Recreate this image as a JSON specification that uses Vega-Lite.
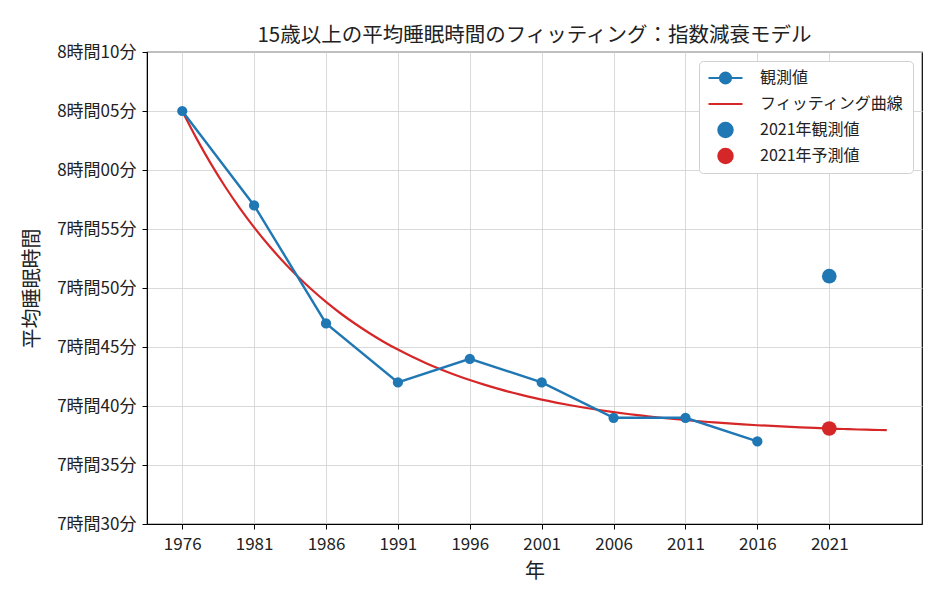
{
  "$schema": "https://vega.github.io/schema/vega-lite/v6.json",
  "autosize": {"type": "none"},
  "padding": {"left": 147, "top": 52, "right": 12, "bottom": 65},
  "width": 775,
  "height": 472,
  "background": "white",
  "title": {
    "text": "15歳以上の平均睡眠時間のフィッティング：指数減衰モデル",
    "font": "Noto Sans CJK JP",
    "fontSize": 20.5,
    "fontWeight": "normal",
    "color": "#222222",
    "offset": -3
  },
  "config": {
    "view": {"stroke": "#000000", "strokeWidth": 1.2},
    "axis": {
      "labelFont": "Noto Sans CJK JP",
      "labelFontSize": 17,
      "labelColor": "#222222",
      "titleFont": "Noto Sans CJK JP",
      "titleFontSize": 20,
      "titleFontWeight": "normal",
      "titleColor": "#222222",
      "tickColor": "#000000",
      "tickSize": 5,
      "domainColor": "#000000",
      "gridColor": "#d5d5d5",
      "gridWidth": 0.9
    },
    "legend": {
      "labelFont": "Noto Sans CJK JP",
      "labelFontSize": 16,
      "labelColor": "#222222"
    }
  },
  "datasets": {
    "obs": [
      {"year": 1976, "minutes": 485, "series": "観測値"},
      {"year": 1981, "minutes": 477, "series": "観測値"},
      {"year": 1986, "minutes": 467, "series": "観測値"},
      {"year": 1991, "minutes": 462, "series": "観測値"},
      {"year": 1996, "minutes": 464, "series": "観測値"},
      {"year": 2001, "minutes": 462, "series": "観測値"},
      {"year": 2006, "minutes": 459, "series": "観測値"},
      {"year": 2011, "minutes": 459, "series": "観測値"},
      {"year": 2016, "minutes": 457, "series": "観測値"}
    ],
    "fit": [
      {"year": 1976, "minutes": 485.0, "series": "フィッティング曲線"},
      {"year": 1977, "minutes": 482.66, "series": "フィッティング曲線"},
      {"year": 1978, "minutes": 480.52, "series": "フィッティング曲線"},
      {"year": 1979, "minutes": 478.56, "series": "フィッティング曲線"},
      {"year": 1980, "minutes": 476.77, "series": "フィッティング曲線"},
      {"year": 1981, "minutes": 475.14, "series": "フィッティング曲線"},
      {"year": 1982, "minutes": 473.64, "series": "フィッティング曲線"},
      {"year": 1983, "minutes": 472.27, "series": "フィッティング曲線"},
      {"year": 1984, "minutes": 471.02, "series": "フィッティング曲線"},
      {"year": 1985, "minutes": 469.87, "series": "フィッティング曲線"},
      {"year": 1986, "minutes": 468.82, "series": "フィッティング曲線"},
      {"year": 1987, "minutes": 467.86, "series": "フィッティング曲線"},
      {"year": 1988, "minutes": 466.99, "series": "フィッティング曲線"},
      {"year": 1989, "minutes": 466.19, "series": "フィッティング曲線"},
      {"year": 1990, "minutes": 465.45, "series": "フィッティング曲線"},
      {"year": 1991, "minutes": 464.78, "series": "フィッティング曲線"},
      {"year": 1992, "minutes": 464.17, "series": "フィッティング曲線"},
      {"year": 1993, "minutes": 463.61, "series": "フィッティング曲線"},
      {"year": 1994, "minutes": 463.10, "series": "フィッティング曲線"},
      {"year": 1995, "minutes": 462.63, "series": "フィッティング曲線"},
      {"year": 1996, "minutes": 462.20, "series": "フィッティング曲線"},
      {"year": 1997, "minutes": 461.81, "series": "フィッティング曲線"},
      {"year": 1998, "minutes": 461.45, "series": "フィッティング曲線"},
      {"year": 1999, "minutes": 461.12, "series": "フィッティング曲線"},
      {"year": 2000, "minutes": 460.82, "series": "フィッティング曲線"},
      {"year": 2001, "minutes": 460.54, "series": "フィッティング曲線"},
      {"year": 2002, "minutes": 460.29, "series": "フィッティング曲線"},
      {"year": 2003, "minutes": 460.06, "series": "フィッティング曲線"},
      {"year": 2004, "minutes": 459.85, "series": "フィッティング曲線"},
      {"year": 2005, "minutes": 459.66, "series": "フィッティング曲線"},
      {"year": 2006, "minutes": 459.48, "series": "フィッティング曲線"},
      {"year": 2007, "minutes": 459.32, "series": "フィッティング曲線"},
      {"year": 2008, "minutes": 459.18, "series": "フィッティング曲線"},
      {"year": 2009, "minutes": 459.04, "series": "フィッティング曲線"},
      {"year": 2010, "minutes": 458.92, "series": "フィッティング曲線"},
      {"year": 2011, "minutes": 458.81, "series": "フィッティング曲線"},
      {"year": 2012, "minutes": 458.70, "series": "フィッティング曲線"},
      {"year": 2013, "minutes": 458.61, "series": "フィッティング曲線"},
      {"year": 2014, "minutes": 458.52, "series": "フィッティング曲線"},
      {"year": 2015, "minutes": 458.44, "series": "フィッティング曲線"},
      {"year": 2016, "minutes": 458.37, "series": "フィッティング曲線"},
      {"year": 2017, "minutes": 458.31, "series": "フィッティング曲線"},
      {"year": 2018, "minutes": 458.25, "series": "フィッティング曲線"},
      {"year": 2019, "minutes": 458.19, "series": "フィッティング曲線"},
      {"year": 2020, "minutes": 458.14, "series": "フィッティング曲線"},
      {"year": 2021, "minutes": 458.09, "series": "フィッティング曲線"},
      {"year": 2022, "minutes": 458.05, "series": "フィッティング曲線"},
      {"year": 2023, "minutes": 458.01, "series": "フィッティング曲線"},
      {"year": 2024, "minutes": 457.98, "series": "フィッティング曲線"},
      {"year": 2025, "minutes": 457.95, "series": "フィッティング曲線"}
    ],
    "obs2021": [
      {"year": 2021, "minutes": 471, "series": "2021年観測値"}
    ],
    "pred2021": [
      {"year": 2021, "minutes": 458.09, "series": "2021年予測値"}
    ]
  },
  "encoding": {
    "x": {
      "field": "year",
      "type": "quantitative",
      "title": "年",
      "scale": {"domain": [1973.55, 2027.45], "nice": false, "zero": false},
      "axis": {
        "values": [1976, 1981, 1986, 1991, 1996, 2001, 2006, 2011, 2016, 2021],
        "format": "d",
        "labelPadding": 7,
        "titlePadding": 9
      }
    },
    "y": {
      "field": "minutes",
      "type": "quantitative",
      "title": "平均睡眠時間",
      "scale": {"domain": [450, 490], "nice": false, "zero": false},
      "axis": {
        "values": [450, 455, 460, 465, 470, 475, 480, 485, 490],
        "labelExpr": "floor(datum.value / 60) + '時間' + (datum.value % 60 < 10 ? '0' : '') + (datum.value % 60) + '分'",
        "labelPadding": 6,
        "titlePadding": 14
      }
    },
    "color": {
      "field": "series",
      "type": "nominal",
      "scale": {
        "domain": ["観測値", "フィッティング曲線", "2021年観測値", "2021年予測値"],
        "range": ["#1f77b4", "#d62728", "#1f77b4", "#d62728"]
      },
      "legend": {
        "title": null,
        "orient": "top-right",
        "offset": 9,
        "padding": 8,
        "rowPadding": 8,
        "clipHeight": 18,
        "symbolSize": 1156,
        "symbolOffset": 0,
        "labelOffset": 16,
        "strokeColor": "#d0d0d0",
        "fillColor": "white",
        "cornerRadius": 4,
        "encode": {
          "symbols": {
            "update": {
              "shape": {"signal": "datum.label == '観測値' ? 'M-1,0L1,0M-0.32,0A0.32,0.32,0,1,1,0.32,0A0.32,0.32,0,1,1,-0.32,0Z' : datum.label == 'フィッティング曲線' ? 'M-1,0L1,0' : 'M-0.42,0A0.42,0.42,0,1,1,0.42,0A0.42,0.42,0,1,1,-0.42,0Z'"},
              "fill": {"signal": "datum.label == 'フィッティング曲線' ? 'transparent' : (datum.label == '2021年予測値' ? '#d62728' : '#1f77b4')"},
              "stroke": {"signal": "datum.label == 'フィッティング曲線' ? '#d62728' : (datum.label == '2021年予測値' ? '#d62728' : '#1f77b4')"},
              "strokeWidth": {"value": 2.2},
              "opacity": {"value": 1},
              "size": {"value": 1156}
            }
          }
        }
      }
    }
  },
  "layer": [
    {
      "data": {"name": "fit"},
      "mark": {"type": "line", "strokeWidth": 2.2, "interpolate": "monotone"}
    },
    {
      "data": {"name": "obs"},
      "mark": {"type": "line", "strokeWidth": 2.4, "point": {"filled": true, "size": 105, "opacity": 1}}
    },
    {
      "data": {"name": "obs2021"},
      "mark": {"type": "circle", "size": 215, "opacity": 1}
    },
    {
      "data": {"name": "pred2021"},
      "mark": {"type": "circle", "size": 215, "opacity": 1}
    }
  ]
}
